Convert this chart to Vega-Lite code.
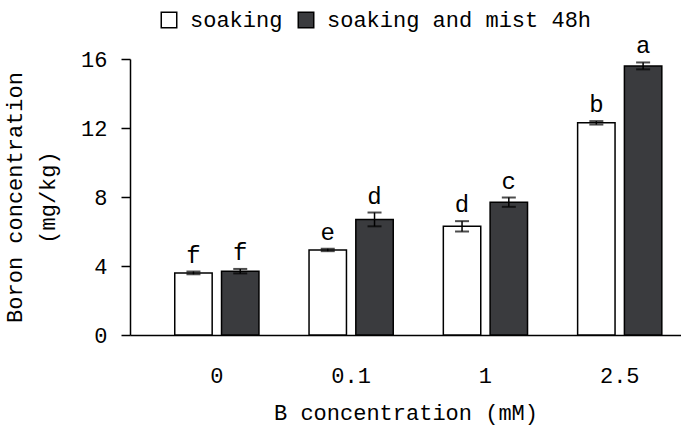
{
  "$schema": "https://vega.github.io/schema/vega-lite/v6.json",
  "width": 551,
  "height": 276,
  "autosize": {"type": "none"},
  "padding": {"left": 130, "top": 59, "right": 0, "bottom": 100},
  "background": "white",
  "config": {
    "view": {"stroke": null},
    "font": "Liberation Mono",
    "axis": {"labelFont": "Liberation Mono", "titleFont": "Liberation Mono", "labelColor": "black", "titleColor": "black", "titleFontWeight": "normal", "domainColor": "black", "tickColor": "black", "domainWidth": 1.5, "tickWidth": 1.5, "grid": false},
    "legend": {"labelFont": "Liberation Mono"}
  },
  "data": {
    "values": [
      {"B": "0", "series": "soaking", "mean": 3.6, "lo": 3.52, "hi": 3.68, "label": "f"},
      {"B": "0", "series": "soaking and mist 48h", "mean": 3.7, "lo": 3.57, "hi": 3.83, "label": "f"},
      {"B": "0.1", "series": "soaking", "mean": 4.93, "lo": 4.86, "hi": 5.0, "label": "e"},
      {"B": "0.1", "series": "soaking and mist 48h", "mean": 6.7, "lo": 6.3, "hi": 7.1, "label": "d"},
      {"B": "1", "series": "soaking", "mean": 6.3, "lo": 6.0, "hi": 6.6, "label": "d"},
      {"B": "1", "series": "soaking and mist 48h", "mean": 7.7, "lo": 7.43, "hi": 7.97, "label": "c"},
      {"B": "2.5", "series": "soaking", "mean": 12.3, "lo": 12.2, "hi": 12.4, "label": "b"},
      {"B": "2.5", "series": "soaking and mist 48h", "mean": 15.6, "lo": 15.4, "hi": 15.8, "label": "a"}
    ]
  },
  "encoding": {
    "x": {
      "field": "B", "type": "nominal", "sort": ["0", "0.1", "1", "2.5"],
      "scale": {"paddingInner": 0.373, "paddingOuter": 0.238, "align": 0.7},
      "axis": {"labelAngle": 0, "ticks": false, "labelFontSize": 22, "labelPadding": 30, "title": "B concentration (mM)", "titleFontSize": 22, "titlePadding": 16}
    },
    "xOffset": {"field": "series", "type": "nominal", "sort": ["soaking", "soaking and mist 48h"], "scale": {"paddingInner": 0.2}}
  },
  "layer": [
    {
      "mark": {"type": "bar", "stroke": "black", "strokeWidth": 1.5},
      "encoding": {
        "y": {
          "field": "mean", "type": "quantitative",
          "scale": {"domain": [0, 16], "nice": false},
          "axis": {"values": [0, 4, 8, 12, 16], "tickSize": 9, "labelPadding": 14, "labelFontSize": 22, "title": ["Boron concentration", "(mg/kg)"], "titleFontSize": 22, "titleLineHeight": 33, "titleX": -116, "titleY": 138, "titleAngle": -90, "titleAlign": "center", "titleBaseline": "middle"}
        },
        "fill": {
          "field": "series", "type": "nominal",
          "scale": {"domain": ["soaking", "soaking and mist 48h"], "range": ["white", "#3a3b3e"]},
          "legend": {"title": null, "orient": "none", "legendX": 28, "legendY": -50, "direction": "horizontal", "symbolType": "square", "symbolSize": 240, "symbolStrokeColor": "black", "symbolStrokeWidth": 1.5, "labelFontSize": 22, "labelLimit": 0, "labelOffset": 10, "columnPadding": 12, "padding": 0}
        }
      }
    },
    {
      "mark": {"type": "rule", "color": "black", "strokeWidth": 1.5},
      "encoding": {"y": {"field": "lo", "type": "quantitative"}, "y2": {"field": "hi"}}
    },
    {
      "mark": {"type": "tick", "color": "black", "size": 14, "thickness": 2},
      "encoding": {"y": {"field": "lo", "type": "quantitative"}}
    },
    {
      "mark": {"type": "tick", "color": "black", "size": 14, "thickness": 2},
      "encoding": {"y": {"field": "hi", "type": "quantitative"}}
    },
    {
      "mark": {"type": "text", "baseline": "bottom", "dy": -4, "fontSize": 24, "color": "black"},
      "encoding": {"y": {"field": "hi", "type": "quantitative"}, "text": {"field": "label"}}
    }
  ]
}
